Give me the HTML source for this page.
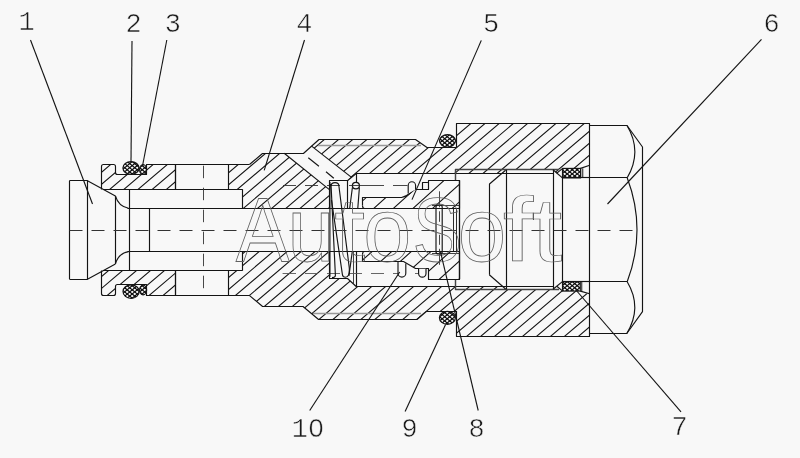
<!DOCTYPE html>
<html><head><meta charset="utf-8"><title>Valve section</title>
<style>
html,body{margin:0;padding:0;background:#f8f8f8;}
body{width:800px;height:458px;overflow:hidden;font-family:"Liberation Sans",sans-serif;}
svg{display:block}
</style></head><body>
<svg width="800" height="458" viewBox="0 0 800 458">
<defs>
<clipPath id="c1"><path d="M101.5,189.5 L101.5,166.5 Q101.5,164.5 103.5,164.5 L113.5,164.5 Q115.5,164.5 115.5,166.5 L115.5,172.5 Q115.5,174.5 117.5,174.5 L146.5,174.5 L146.5,164.5 L175.5,164.5 L175.5,189.5 Z"/></clipPath>
<clipPath id="c2"><path d="M101.5,270.5 L101.5,293.5 Q101.5,295.5 103.5,295.5 L113.5,295.5 Q115.5,295.5 115.5,293.5 L115.5,286.5 Q115.5,284.5 117.5,284.5 L146.5,284.5 L146.5,295.5 L175.5,295.5 L175.5,270.5 Z"/></clipPath>
<clipPath id="c3"><path d="M228.60,164.50 L249.50,164.50 L262.50,153.20 L303.40,153.20 L319.00,139.60 L415.50,139.60 L427.00,147.70 L456.00,147.70 L456.00,123.50 L589.70,123.50 L589.70,165.20 L580.50,168.40 L562.60,168.40 L557.00,173.40 L553.00,169.80 L506.30,169.80 L503.00,173.40 L356.20,173.40 L347.70,180.60 L329.40,180.60 L329.40,208.20 L242.50,208.20 L242.50,189.20 L228.60,189.20 Z"/></clipPath>
<clipPath id="c4"><path d="M228.60,295.00 L249.00,295.00 L262.60,306.40 L303.00,306.40 L318.60,319.70 L417.00,319.70 L426.30,311.00 L456.00,311.00 L456.00,336.30 L589.70,336.30 L589.70,294.60 L580.30,291.10 L562.60,291.10 L557.00,286.00 L553.00,289.30 L506.30,289.30 L503.00,286.00 L356.20,286.30 L347.50,278.40 L329.40,278.40 L329.40,251.60 L242.50,251.60 L242.50,270.80 L228.60,270.80 Z"/></clipPath>
<clipPath id="c5"><path d="M362.5,205.5 L362.5,197.5 L401.5,197.5 Q406.5,196.5 409.5,193.5 L414.5,189.5 L428.5,189.5 L428.5,180.5 L459.5,180.5 L459.5,208.5 L364.5,208.5 Q362.5,208.5 362.5,205.5 Z"/></clipPath>
<clipPath id="c6"><path d="M362.5,254.5 L362.5,261.5 L403.5,261.5 L415.5,268.5 L428.5,268.5 L428.5,279.5 L459.5,279.5 L459.5,251.5 L364.5,251.5 Q362.5,251.5 362.5,254.5 Z"/></clipPath>
<clipPath id="c7"><path d="M562.6,168.4 H580.5 V177.9 H562.6 Z"/></clipPath>
<clipPath id="c8"><path d="M562.6,168.4 H580.5 V177.9 H562.6 Z"/></clipPath>
<clipPath id="c9"><path d="M562.6,281.6 H580.3 V291.1 H562.6 Z"/></clipPath>
<clipPath id="c10"><path d="M562.6,281.6 H580.3 V291.1 H562.6 Z"/></clipPath>
<clipPath id="c11"><path d="M122.9,168.0 a8.1,6.4 0 1,0 16.2,0 a8.1,6.4 0 1,0 -16.2,0 Z"/></clipPath>
<clipPath id="c12"><path d="M122.9,168.0 a8.1,6.4 0 1,0 16.2,0 a8.1,6.4 0 1,0 -16.2,0 Z"/></clipPath>
<clipPath id="c13"><path d="M139.6,169.6 a3.5,4.9 0 1,0 7.0,0 a3.5,4.9 0 1,0 -7.0,0 Z"/></clipPath>
<clipPath id="c14"><path d="M139.6,169.6 a3.5,4.9 0 1,0 7.0,0 a3.5,4.9 0 1,0 -7.0,0 Z"/></clipPath>
<clipPath id="c15"><path d="M123.0,291.6 a8.1,6.8 0 1,0 16.2,0 a8.1,6.8 0 1,0 -16.2,0 Z"/></clipPath>
<clipPath id="c16"><path d="M123.0,291.6 a8.1,6.8 0 1,0 16.2,0 a8.1,6.8 0 1,0 -16.2,0 Z"/></clipPath>
<clipPath id="c17"><path d="M139.6,290.0 a3.5,4.9 0 1,0 7.0,0 a3.5,4.9 0 1,0 -7.0,0 Z"/></clipPath>
<clipPath id="c18"><path d="M139.6,290.0 a3.5,4.9 0 1,0 7.0,0 a3.5,4.9 0 1,0 -7.0,0 Z"/></clipPath>
<clipPath id="c19"><path d="M439.5,140.8 a8.0,6.2 0 1,0 16.0,0 a8.0,6.2 0 1,0 -16.0,0 Z"/></clipPath>
<clipPath id="c20"><path d="M439.5,140.8 a8.0,6.2 0 1,0 16.0,0 a8.0,6.2 0 1,0 -16.0,0 Z"/></clipPath>
<clipPath id="c21"><path d="M439.4,317.8 a8.0,6.5 0 1,0 16.0,0 a8.0,6.5 0 1,0 -16.0,0 Z"/></clipPath>
<clipPath id="c22"><path d="M439.4,317.8 a8.0,6.5 0 1,0 16.0,0 a8.0,6.5 0 1,0 -16.0,0 Z"/></clipPath>
<filter id="gs" x="-5%" y="-5%" width="110%" height="110%" color-interpolation-filters="sRGB"><feColorMatrix type="saturate" values="0"/></filter>
</defs>
<rect width="800" height="458" fill="#f8f8f8"/>
<path d="M78.87,191.50 L112.99,162.50 M93.05,191.50 L127.17,162.50 M107.23,191.50 L141.35,162.50 M121.41,191.50 L155.53,162.50 M135.59,191.50 L169.71,162.50 M149.77,191.50 L183.89,162.50 M163.95,191.50 L198.07,162.50" stroke="#141414" stroke-width="1.1" fill="none" clip-path="url(#c1)"/>
<path d="M76.87,297.50 L110.99,268.50 M90.84,297.50 L124.96,268.50 M104.81,297.50 L138.93,268.50 M118.78,297.50 L152.90,268.50 M132.75,297.50 L166.87,268.50 M146.72,297.50 L180.84,268.50 M160.69,297.50 L194.81,268.50 M174.66,297.50 L208.78,268.50" stroke="#141414" stroke-width="1.1" fill="none" clip-path="url(#c2)"/>
<path d="M127.77,210.20 L232.12,121.50 M141.95,210.20 L246.30,121.50 M156.13,210.20 L260.48,121.50 M170.31,210.20 L274.66,121.50 M184.49,210.20 L288.84,121.50 M198.67,210.20 L303.02,121.50 M212.85,210.20 L317.20,121.50 M227.03,210.20 L331.38,121.50 M241.21,210.20 L345.56,121.50 M255.39,210.20 L359.74,121.50 M269.57,210.20 L373.92,121.50 M283.75,210.20 L388.10,121.50 M297.93,210.20 L402.28,121.50 M312.11,210.20 L416.46,121.50 M326.29,210.20 L430.64,121.50 M340.47,210.20 L444.82,121.50 M354.65,210.20 L459.00,121.50 M368.83,210.20 L473.18,121.50 M383.01,210.20 L487.36,121.50 M397.19,210.20 L501.54,121.50 M411.37,210.20 L515.72,121.50 M425.55,210.20 L529.90,121.50 M439.73,210.20 L544.08,121.50 M453.91,210.20 L558.26,121.50 M468.09,210.20 L572.44,121.50 M482.27,210.20 L586.62,121.50 M496.45,210.20 L600.80,121.50 M510.63,210.20 L614.98,121.50 M524.81,210.20 L629.16,121.50 M538.99,210.20 L643.34,121.50 M553.17,210.20 L657.52,121.50 M567.35,210.20 L671.70,121.50 M581.53,210.20 L685.88,121.50" stroke="#141414" stroke-width="1.1" fill="none" clip-path="url(#c3)"/>
<path d="M129.16,338.30 L233.51,249.60 M143.13,338.30 L247.48,249.60 M157.10,338.30 L261.45,249.60 M171.07,338.30 L275.42,249.60 M185.04,338.30 L289.39,249.60 M199.01,338.30 L303.36,249.60 M212.98,338.30 L317.33,249.60 M226.95,338.30 L331.30,249.60 M240.92,338.30 L345.27,249.60 M254.89,338.30 L359.24,249.60 M268.86,338.30 L373.21,249.60 M282.83,338.30 L387.18,249.60 M296.80,338.30 L401.15,249.60 M310.77,338.30 L415.12,249.60 M324.74,338.30 L429.09,249.60 M338.71,338.30 L443.06,249.60 M352.68,338.30 L457.03,249.60 M366.65,338.30 L471.00,249.60 M380.62,338.30 L484.97,249.60 M394.59,338.30 L498.94,249.60 M408.56,338.30 L512.91,249.60 M422.53,338.30 L526.88,249.60 M436.50,338.30 L540.85,249.60 M450.47,338.30 L554.82,249.60 M464.44,338.30 L568.79,249.60 M478.41,338.30 L582.76,249.60 M492.38,338.30 L596.73,249.60 M506.35,338.30 L610.70,249.60 M520.32,338.30 L624.67,249.60 M534.29,338.30 L638.64,249.60 M548.26,338.30 L652.61,249.60 M562.23,338.30 L666.58,249.60 M576.20,338.30 L680.55,249.60 M590.17,338.30 L694.52,249.60" stroke="#141414" stroke-width="1.1" fill="none" clip-path="url(#c4)"/>
<path d="M284.20,153.20 L303.40,153.20 L311.60,146.10 L350.90,176.90 L347.70,180.60 L329.40,180.60 L329.40,189.60 Z" fill="#f8f8f8" stroke="none"/>
<path d="M332.26,210.50 L367.81,178.50 M351.86,210.50 L387.41,178.50 M371.46,210.50 L407.01,178.50 M391.06,210.50 L426.61,178.50 M410.66,210.50 L446.21,178.50 M430.26,210.50 L465.81,178.50 M449.86,210.50 L485.41,178.50" stroke="#141414" stroke-width="1.1" fill="none" clip-path="url(#c5)"/>
<path d="M338.78,281.50 L374.33,249.50 M358.38,281.50 L393.93,249.50 M377.98,281.50 L413.53,249.50 M397.58,281.50 L433.13,249.50 M417.18,281.50 L452.73,249.50 M436.78,281.50 L472.33,249.50 M456.38,281.50 L491.93,249.50" stroke="#141414" stroke-width="1.1" fill="none" clip-path="url(#c6)"/>
<path d="M69.50,180.50 L87.00,180.50 L115.40,195.90" stroke="#141414" stroke-width="1.15" fill="none" stroke-linejoin="round" />
<path d="M69.50,279.50 L87.00,279.50 L115.40,263.90" stroke="#141414" stroke-width="1.15" fill="none" stroke-linejoin="round" />
<line x1="69.50" y1="180.60" x2="69.50" y2="279.20" stroke="#141414" stroke-width="1.15" stroke-linecap="butt"/>
<line x1="87.50" y1="180.60" x2="87.50" y2="279.20" stroke="#141414" stroke-width="1.15" stroke-linecap="butt"/>
<line x1="115.50" y1="195.90" x2="115.50" y2="263.90" stroke="#141414" stroke-width="1.15" stroke-linecap="butt"/>
<path d="M115.4,195.9 Q118.5,206.5 128.5,208.2" stroke="#141414" stroke-width="1.15" fill="none" stroke-linejoin="round" />
<path d="M115.4,263.9 Q118.5,253.3 128.5,251.6" stroke="#141414" stroke-width="1.15" fill="none" stroke-linejoin="round" />
<line x1="127.50" y1="208.50" x2="459.00" y2="208.50" stroke="#141414" stroke-width="1.15" stroke-linecap="butt"/>
<line x1="127.50" y1="251.50" x2="459.00" y2="251.50" stroke="#141414" stroke-width="1.15" stroke-linecap="butt"/>
<line x1="129.50" y1="189.20" x2="129.50" y2="270.70" stroke="#141414" stroke-width="1.15" stroke-linecap="butt"/>
<line x1="149.50" y1="208.20" x2="149.50" y2="251.60" stroke="#141414" stroke-width="1.15" stroke-linecap="butt"/>
<path d="M101.5,189.5 L101.5,166.5 Q101.5,164.5 103.5,164.5 L113.5,164.5 Q115.5,164.5 115.5,166.5 L115.5,172.5 Q115.5,174.5 117.5,174.5 L146.5,174.5 L146.5,164.5 L175.5,164.5 L175.5,189.5" stroke="#141414" stroke-width="1.15" fill="none" stroke-linejoin="round" />
<path d="M101.5,270.5 L101.5,293.5 Q101.5,295.5 103.5,295.5 L113.5,295.5 Q115.5,295.5 115.5,293.5 L115.5,286.5 Q115.5,284.5 117.5,284.5 L146.5,284.5 L146.5,295.5 L175.5,295.5 L175.5,270.5" stroke="#141414" stroke-width="1.15" fill="none" stroke-linejoin="round" />
<line x1="146.60" y1="164.50" x2="249.50" y2="164.50" stroke="#141414" stroke-width="1.15" stroke-linecap="butt"/>
<line x1="146.60" y1="295.50" x2="249.00" y2="295.50" stroke="#141414" stroke-width="1.15" stroke-linecap="butt"/>
<line x1="103.00" y1="189.50" x2="242.50" y2="189.50" stroke="#141414" stroke-width="1.15" stroke-linecap="butt"/>
<line x1="103.00" y1="270.50" x2="242.50" y2="270.50" stroke="#141414" stroke-width="1.15" stroke-linecap="butt"/>
<line x1="175.50" y1="164.50" x2="175.50" y2="189.20" stroke="#141414" stroke-width="1.15" stroke-linecap="butt"/>
<line x1="175.50" y1="270.70" x2="175.50" y2="295.10" stroke="#141414" stroke-width="1.15" stroke-linecap="butt"/>
<line x1="228.50" y1="164.50" x2="228.50" y2="189.20" stroke="#141414" stroke-width="1.15" stroke-linecap="butt"/>
<line x1="228.50" y1="270.70" x2="228.50" y2="295.10" stroke="#141414" stroke-width="1.15" stroke-linecap="butt"/>
<line x1="242.50" y1="189.20" x2="242.50" y2="208.20" stroke="#141414" stroke-width="1.15" stroke-linecap="butt"/>
<line x1="242.50" y1="251.60" x2="242.50" y2="270.70" stroke="#141414" stroke-width="1.15" stroke-linecap="butt"/>
<line x1="203.50" y1="165.70" x2="203.50" y2="295.00" stroke="#333" stroke-width="0.9" stroke-dasharray="12.5 9.5" stroke-linecap="butt"/>
<path d="M249.50,164.50 L262.50,153.50 L303.40,153.50 L319.00,139.50 L415.50,139.50 L427.00,147.50 L456.00,147.50" stroke="#141414" stroke-width="1.15" fill="none" stroke-linejoin="round" />
<path d="M249.00,295.10 L262.60,306.50 L303.00,306.50 L318.60,319.50 L417.00,319.50 L426.30,311.50 L456.00,311.50" stroke="#141414" stroke-width="1.15" fill="none" stroke-linejoin="round" />
<line x1="318.00" y1="145.50" x2="421.00" y2="145.50" stroke="#999" stroke-width="1.4" stroke-linecap="butt"/>
<line x1="313.00" y1="313.50" x2="421.00" y2="313.50" stroke="#999" stroke-width="1.4" stroke-linecap="butt"/>
<line x1="284.20" y1="153.20" x2="329.40" y2="189.60" stroke="#141414" stroke-width="1.15" stroke-linecap="butt"/>
<line x1="311.60" y1="146.10" x2="350.90" y2="176.90" stroke="#141414" stroke-width="1.15" stroke-linecap="butt"/>
<line x1="308.30" y1="157.70" x2="318.90" y2="166.20" stroke="#141414" stroke-width="1.15" stroke-linecap="butt"/>
<line x1="326.00" y1="171.80" x2="333.80" y2="178.20" stroke="#141414" stroke-width="1.15" stroke-linecap="butt"/>
<path d="M329.50,208.20 L329.50,180.50 L347.70,180.50 L356.20,173.50 L503.00,173.50" stroke="#141414" stroke-width="1.15" fill="none" stroke-linejoin="round" />
<path d="M329.50,251.60 L329.50,278.50 L347.50,278.50 L356.20,286.50 L503.00,286.50" stroke="#141414" stroke-width="1.15" fill="none" stroke-linejoin="round" />
<line x1="347.50" y1="180.60" x2="347.50" y2="208.20" stroke="#141414" stroke-width="1.15" stroke-linecap="butt"/>
<line x1="356.50" y1="173.40" x2="356.50" y2="182.50" stroke="#141414" stroke-width="1.15" stroke-linecap="butt"/>
<line x1="353.50" y1="251.60" x2="353.50" y2="283.50" stroke="#141414" stroke-width="0.8" stroke-linecap="butt"/>
<line x1="356.50" y1="251.60" x2="356.50" y2="286.30" stroke="#141414" stroke-width="1.15" stroke-linecap="butt"/>
<line x1="283.00" y1="185.50" x2="296.00" y2="185.50" stroke="#333" stroke-width="0.9" stroke-linecap="butt"/>
<line x1="305.00" y1="185.50" x2="318.00" y2="185.50" stroke="#333" stroke-width="0.9" stroke-linecap="butt"/>
<line x1="327.00" y1="185.50" x2="340.00" y2="185.50" stroke="#333" stroke-width="0.9" stroke-linecap="butt"/>
<line x1="349.00" y1="185.50" x2="384.00" y2="185.50" stroke="#333" stroke-width="0.9" stroke-linecap="butt"/>
<line x1="393.00" y1="185.50" x2="407.50" y2="185.50" stroke="#333" stroke-width="0.9" stroke-linecap="butt"/>
<line x1="282.60" y1="273.50" x2="296.00" y2="273.50" stroke="#555" stroke-width="0.9" stroke-linecap="butt"/>
<line x1="305.00" y1="273.50" x2="318.00" y2="273.50" stroke="#555" stroke-width="0.9" stroke-linecap="butt"/>
<line x1="327.00" y1="273.50" x2="340.00" y2="273.50" stroke="#555" stroke-width="0.9" stroke-linecap="butt"/>
<line x1="349.00" y1="273.50" x2="362.00" y2="273.50" stroke="#555" stroke-width="0.9" stroke-linecap="butt"/>
<line x1="371.00" y1="273.50" x2="384.00" y2="273.50" stroke="#555" stroke-width="0.9" stroke-linecap="butt"/>
<line x1="393.00" y1="273.50" x2="398.00" y2="273.50" stroke="#555" stroke-width="0.9" stroke-linecap="butt"/>
<line x1="415.00" y1="273.50" x2="418.50" y2="273.50" stroke="#555" stroke-width="0.9" stroke-linecap="butt"/>
<path d="M456.50,147.70 L456.50,123.50 L589.50,123.50 L589.50,336.50 L456.50,336.50 L456.50,311.00" stroke="#141414" stroke-width="1.15" fill="none" stroke-linejoin="round" />
<path d="M455.50,180.20 L455.50,169.50 L559.00,169.50" stroke="#444" stroke-width="1.45" fill="none" stroke-linejoin="round" />
<path d="M455.50,279.40 L455.50,289.50 L559.00,289.50" stroke="#444" stroke-width="1.45" fill="none" stroke-linejoin="round" />
<line x1="503.00" y1="173.50" x2="553.00" y2="173.50" stroke="#141414" stroke-width="1.0" stroke-linecap="butt"/>
<line x1="503.00" y1="286.50" x2="553.00" y2="286.50" stroke="#141414" stroke-width="1.0" stroke-linecap="butt"/>
<path d="M489.50,274.80 L489.50,184.00 L505.60,170.30" stroke="#141414" stroke-width="1.15" fill="none" stroke-linejoin="round" />
<path d="M489.30,274.80 L505.60,289.00" stroke="#141414" stroke-width="1.15" fill="none" stroke-linejoin="round" />
<line x1="506.50" y1="169.80" x2="506.50" y2="289.30" stroke="#141414" stroke-width="1.15" stroke-linecap="butt"/>
<line x1="553.50" y1="169.80" x2="553.50" y2="289.30" stroke="#141414" stroke-width="1.15" stroke-linecap="butt"/>
<line x1="562.50" y1="168.40" x2="562.50" y2="291.10" stroke="#141414" stroke-width="1.15" stroke-linecap="butt"/>
<line x1="533.50" y1="213.50" x2="533.50" y2="219.80" stroke="#141414" stroke-width="1.0" stroke-linecap="butt"/>
<path d="M553.00,169.80 L562.40,177.90" stroke="#141414" stroke-width="1.15" fill="none" stroke-linejoin="round" />
<path d="M556.60,173.20 L562.40,168.60" stroke="#141414" stroke-width="1.15" fill="none" stroke-linejoin="round" />
<path d="M553.00,289.30 L562.40,281.60" stroke="#141414" stroke-width="1.15" fill="none" stroke-linejoin="round" />
<path d="M556.80,286.20 L562.40,290.90" stroke="#141414" stroke-width="1.15" fill="none" stroke-linejoin="round" />
<path d="M562.6,168.4 H580.5 V177.9 H562.6 Z" fill="#fafafa" stroke="none"/>
<path d="M562.49,165.40L543.77,180.90M567.49,165.40L548.77,180.90M572.49,165.40L553.77,180.90M577.49,165.40L558.77,180.90M582.49,165.40L563.77,180.90M587.49,165.40L568.77,180.90M592.49,165.40L573.77,180.90M597.49,165.40L578.77,180.90" stroke="#0c0c0c" stroke-width="1.2" fill="none" clip-path="url(#c7)"/>
<path d="M541.91,165.40L560.63,180.90M546.91,165.40L565.63,180.90M551.91,165.40L570.63,180.90M556.91,165.40L575.63,180.90M561.91,165.40L580.63,180.90M566.91,165.40L585.63,180.90M571.91,165.40L590.63,180.90M576.91,165.40L595.63,180.90M581.91,165.40L600.63,180.90" stroke="#0c0c0c" stroke-width="1.2" fill="none" clip-path="url(#c8)"/>
<rect x="562.6" y="168.4" width="17.9" height="9.5" fill="none" stroke="#141414" stroke-width="1.15"/>
<path d="M562.6,281.6 H580.3 V291.1 H562.6 Z" fill="#fafafa" stroke="none"/>
<path d="M560.77,278.60L542.06,294.10M565.77,278.60L547.06,294.10M570.77,278.60L552.06,294.10M575.77,278.60L557.06,294.10M580.77,278.60L562.06,294.10M585.77,278.60L567.06,294.10M590.77,278.60L572.06,294.10M595.77,278.60L577.06,294.10M600.77,278.60L582.06,294.10" stroke="#0c0c0c" stroke-width="1.2" fill="none" clip-path="url(#c9)"/>
<path d="M543.63,278.60L562.34,294.10M548.63,278.60L567.34,294.10M553.63,278.60L572.34,294.10M558.63,278.60L577.34,294.10M563.63,278.60L582.34,294.10M568.63,278.60L587.34,294.10M573.63,278.60L592.34,294.10M578.63,278.60L597.34,294.10" stroke="#0c0c0c" stroke-width="1.2" fill="none" clip-path="url(#c10)"/>
<rect x="562.6" y="281.6" width="17.7" height="9.5" fill="none" stroke="#141414" stroke-width="1.15"/>
<line x1="582.50" y1="168.40" x2="582.50" y2="177.90" stroke="#555" stroke-width="1.7" stroke-linecap="butt"/>
<line x1="581.50" y1="281.60" x2="581.50" y2="291.10" stroke="#555" stroke-width="1.7" stroke-linecap="butt"/>
<line x1="580.50" y1="168.40" x2="589.70" y2="165.20" stroke="#141414" stroke-width="1.15" stroke-linecap="butt"/>
<line x1="580.30" y1="291.10" x2="589.70" y2="293.80" stroke="#141414" stroke-width="1.15" stroke-linecap="butt"/>
<line x1="562.60" y1="177.50" x2="589.70" y2="177.50" stroke="#141414" stroke-width="1.15" stroke-linecap="butt"/>
<line x1="562.60" y1="281.50" x2="589.70" y2="281.50" stroke="#141414" stroke-width="1.15" stroke-linecap="butt"/>
<path d="M589.70,125.50 L627.00,125.50 L642.50,147.00 L642.50,311.60 L626.80,333.50 L589.70,333.50" stroke="#141414" stroke-width="1.15" fill="none" stroke-linejoin="round" />
<line x1="589.70" y1="177.50" x2="627.20" y2="177.50" stroke="#141414" stroke-width="1.15" stroke-linecap="butt"/>
<line x1="589.70" y1="281.50" x2="627.20" y2="281.50" stroke="#141414" stroke-width="1.15" stroke-linecap="butt"/>
<path d="M627.0,125.5 Q642.6,151.6 627.2,177.8" stroke="#141414" stroke-width="1.15" fill="none" stroke-linejoin="round" />
<path d="M627.2,177.8 Q646.8,229.8 627.2,281.8" stroke="#141414" stroke-width="1.15" fill="none" stroke-linejoin="round" />
<path d="M627.2,281.8 Q642.6,307.6 626.8,333.5" stroke="#141414" stroke-width="1.15" fill="none" stroke-linejoin="round" />
<path d="M122.9,168.0 a8.1,6.4 0 1,0 16.2,0 a8.1,6.4 0 1,0 -16.2,0 Z" fill="#fafafa" stroke="none"/>
<path d="M120.70,158.60L98.00,177.40M125.70,158.60L103.00,177.40M130.70,158.60L108.00,177.40M135.70,158.60L113.00,177.40M140.70,158.60L118.00,177.40M145.70,158.60L123.00,177.40M150.70,158.60L128.00,177.40M155.70,158.60L133.00,177.40M160.70,158.60L138.00,177.40" stroke="#0c0c0c" stroke-width="1.2" fill="none" clip-path="url(#c11)"/>
<path d="M98.70,158.60L121.40,177.40M103.70,158.60L126.40,177.40M108.70,158.60L131.40,177.40M113.70,158.60L136.40,177.40M118.70,158.60L141.40,177.40M123.70,158.60L146.40,177.40M128.70,158.60L151.40,177.40M133.70,158.60L156.40,177.40M138.70,158.60L161.40,177.40" stroke="#0c0c0c" stroke-width="1.2" fill="none" clip-path="url(#c12)"/>
<ellipse cx="131.0" cy="168.0" rx="8.1" ry="6.4" fill="none" stroke="#141414" stroke-width="1.2"/>
<path d="M139.6,169.6 a3.5,4.9 0 1,0 7.0,0 a3.5,4.9 0 1,0 -7.0,0 Z" fill="#fafafa" stroke="none"/>
<path d="M136.96,161.70L117.88,177.50M141.96,161.70L122.88,177.50M146.96,161.70L127.88,177.50M151.96,161.70L132.88,177.50M156.96,161.70L137.88,177.50M161.96,161.70L142.88,177.50M166.96,161.70L147.88,177.50" stroke="#0c0c0c" stroke-width="1.2" fill="none" clip-path="url(#c13)"/>
<path d="M122.44,161.70L141.52,177.50M127.44,161.70L146.52,177.50M132.44,161.70L151.52,177.50M137.44,161.70L156.52,177.50M142.44,161.70L161.52,177.50M147.44,161.70L166.52,177.50" stroke="#0c0c0c" stroke-width="1.2" fill="none" clip-path="url(#c14)"/>
<ellipse cx="143.1" cy="169.6" rx="3.5" ry="4.9" fill="none" stroke="#141414" stroke-width="1.2"/>
<path d="M123.0,291.6 a8.1,6.8 0 1,0 16.2,0 a8.1,6.8 0 1,0 -16.2,0 Z" fill="#fafafa" stroke="none"/>
<path d="M121.91,281.80L98.24,301.40M126.91,281.80L103.24,301.40M131.91,281.80L108.24,301.40M136.91,281.80L113.24,301.40M141.91,281.80L118.24,301.40M146.91,281.80L123.24,301.40M151.91,281.80L128.24,301.40M156.91,281.80L133.24,301.40M161.91,281.80L138.24,301.40" stroke="#0c0c0c" stroke-width="1.2" fill="none" clip-path="url(#c15)"/>
<path d="M97.49,281.80L121.16,301.40M102.49,281.80L126.16,301.40M107.49,281.80L131.16,301.40M112.49,281.80L136.16,301.40M117.49,281.80L141.16,301.40M122.49,281.80L146.16,301.40M127.49,281.80L151.16,301.40M132.49,281.80L156.16,301.40M137.49,281.80L161.16,301.40" stroke="#0c0c0c" stroke-width="1.2" fill="none" clip-path="url(#c16)"/>
<ellipse cx="131.1" cy="291.6" rx="8.1" ry="6.8" fill="none" stroke="#141414" stroke-width="1.2"/>
<path d="M139.6,290.0 a3.5,4.9 0 1,0 7.0,0 a3.5,4.9 0 1,0 -7.0,0 Z" fill="#fafafa" stroke="none"/>
<path d="M141.55,282.10L122.47,297.90M146.55,282.10L127.47,297.90M151.55,282.10L132.47,297.90M156.55,282.10L137.47,297.90M161.55,282.10L142.47,297.90M166.55,282.10L147.47,297.90" stroke="#0c0c0c" stroke-width="1.2" fill="none" clip-path="url(#c17)"/>
<path d="M117.85,282.10L136.93,297.90M122.85,282.10L141.93,297.90M127.85,282.10L146.93,297.90M132.85,282.10L151.93,297.90M137.85,282.10L156.93,297.90M142.85,282.10L161.93,297.90M147.85,282.10L166.93,297.90" stroke="#0c0c0c" stroke-width="1.2" fill="none" clip-path="url(#c18)"/>
<ellipse cx="143.1" cy="290.0" rx="3.5" ry="4.9" fill="none" stroke="#141414" stroke-width="1.2"/>
<path d="M439.5,140.8 a8.0,6.2 0 1,0 16.0,0 a8.0,6.2 0 1,0 -16.0,0 Z" fill="#fafafa" stroke="none"/>
<path d="M438.31,131.60L416.09,150.00M443.31,131.60L421.09,150.00M448.31,131.60L426.09,150.00M453.31,131.60L431.09,150.00M458.31,131.60L436.09,150.00M463.31,131.60L441.09,150.00M468.31,131.60L446.09,150.00M473.31,131.60L451.09,150.00M478.31,131.60L456.09,150.00" stroke="#0c0c0c" stroke-width="1.2" fill="none" clip-path="url(#c19)"/>
<path d="M416.09,131.60L438.31,150.00M421.09,131.60L443.31,150.00M426.09,131.60L448.31,150.00M431.09,131.60L453.31,150.00M436.09,131.60L458.31,150.00M441.09,131.60L463.31,150.00M446.09,131.60L468.31,150.00M451.09,131.60L473.31,150.00M456.09,131.60L478.31,150.00" stroke="#0c0c0c" stroke-width="1.2" fill="none" clip-path="url(#c20)"/>
<ellipse cx="447.5" cy="140.8" rx="8.0" ry="6.2" fill="none" stroke="#141414" stroke-width="1.2"/>
<path d="M439.4,317.8 a8.0,6.5 0 1,0 16.0,0 a8.0,6.5 0 1,0 -16.0,0 Z" fill="#fafafa" stroke="none"/>
<path d="M439.91,308.30L416.96,327.30M444.91,308.30L421.96,327.30M449.91,308.30L426.96,327.30M454.91,308.30L431.96,327.30M459.91,308.30L436.96,327.30M464.91,308.30L441.96,327.30M469.91,308.30L446.96,327.30M474.91,308.30L451.96,327.30M479.91,308.30L456.96,327.30" stroke="#0c0c0c" stroke-width="1.2" fill="none" clip-path="url(#c21)"/>
<path d="M414.49,308.30L437.44,327.30M419.49,308.30L442.44,327.30M424.49,308.30L447.44,327.30M429.49,308.30L452.44,327.30M434.49,308.30L457.44,327.30M439.49,308.30L462.44,327.30M444.49,308.30L467.44,327.30M449.49,308.30L472.44,327.30M454.49,308.30L477.44,327.30" stroke="#0c0c0c" stroke-width="1.2" fill="none" clip-path="url(#c22)"/>
<ellipse cx="447.4" cy="317.8" rx="8.0" ry="6.5" fill="none" stroke="#141414" stroke-width="1.2"/>
<path d="M362.5,205.5 L362.5,197.5 L401.5,197.5 Q406.5,196.5 409.5,193.5 L414.5,189.5 L428.5,189.5 L428.5,180.5 L459.5,180.5 L459.5,208.5" stroke="#141414" stroke-width="1.15" fill="none" stroke-linejoin="round" />
<path d="M364.5,208.5 Q362.5,208.5 362.5,205.5" stroke="#141414" stroke-width="1.15" fill="none" stroke-linejoin="round" />
<path d="M362.5,254.5 L362.5,261.5 L403.5,261.5 L415.5,268.5 L428.5,268.5 L428.5,279.5 L459.5,279.5 L459.5,251.5" stroke="#141414" stroke-width="1.15" fill="none" stroke-linejoin="round" />
<path d="M364.5,251.5 Q362.5,251.5 362.5,254.5" stroke="#141414" stroke-width="1.15" fill="none" stroke-linejoin="round" />
<line x1="459.50" y1="180.30" x2="459.50" y2="279.20" stroke="#141414" stroke-width="1.3" stroke-linecap="butt"/>
<path d="M422.50,189.60 L422.50,182.50 L427.90,182.50" stroke="#141414" stroke-width="1.15" fill="none" stroke-linejoin="round" />
<path d="M408.2,193.5 L408.2,185.5 A3.7,3.8 0 0 1 415.6,185.5 L415.6,189.6" stroke="#141414" stroke-width="1.15" fill="#f8f8f8" stroke-linejoin="round" />
<path d="M398.0,261.9 L398.0,273.2 A3.9,3.9 0 0 0 405.8,273.2 L405.8,263.2" stroke="#141414" stroke-width="1.15" fill="#f8f8f8" stroke-linejoin="round" />
<path d="M418.6,268.8 L418.6,273.4 A3.7,3.7 0 0 0 426.0,273.4 L426.0,268.8" stroke="#141414" stroke-width="1.15" fill="#f8f8f8" stroke-linejoin="round" />
<line x1="432.00" y1="205.50" x2="459.00" y2="205.50" stroke="#141414" stroke-width="0.8" stroke-linecap="butt"/>
<line x1="432.00" y1="253.50" x2="459.00" y2="253.50" stroke="#141414" stroke-width="0.8" stroke-linecap="butt"/>
<rect x="436" y="205" width="6.2" height="49" rx="2.5" ry="2" fill="none" stroke="#141414" stroke-width="1.15"/>
<line x1="439.50" y1="191.30" x2="439.50" y2="268.50" stroke="#333" stroke-width="0.9" stroke-dasharray="16 4 10.5 13 10 4" stroke-linecap="butt"/>
<line x1="453.50" y1="208.20" x2="453.50" y2="251.60" stroke="#141414" stroke-width="0.9" stroke-linecap="butt"/>
<line x1="456.50" y1="208.20" x2="456.50" y2="251.60" stroke="#141414" stroke-width="0.9" stroke-linecap="butt"/>
<path d="M329.9,182 L329.9,276.8 M331.0,183.9 L335.4,275.5 Q335.2,277.6 332,277.6" stroke="#141414" stroke-width="1.15" fill="none" stroke-linejoin="round" />
<path d="M331.0,186 Q331.2,182.6 335,182.6 Q338.9,182.6 338.9,186 L349.3,268 Q349.8,277.2 345.5,277.2 Q342.7,277.2 342.4,274.5 L331.5,200" stroke="#141414" stroke-width="1.15" fill="none" stroke-linejoin="round" />
<path d="M352.4,187.5 L349.7,208.2 M359.4,187.5 L357.8,208.2" stroke="#141414" stroke-width="1.15" fill="none" stroke-linejoin="round" />
<path d="M352.3,251.6 L348.9,276" stroke="#141414" stroke-width="1.15" fill="none" stroke-linejoin="round" />
<ellipse cx="355.9" cy="185.6" rx="3.5" ry="3.3" fill="#f8f8f8" stroke="#141414" stroke-width="1.3"/>
<line x1="352.40" y1="185.50" x2="359.40" y2="185.50" stroke="#333" stroke-width="0.9" stroke-linecap="butt"/>
<line x1="69.50" y1="230.50" x2="636.00" y2="230.50" stroke="#333" stroke-width="1.0" stroke-dasharray="13 9" stroke-linecap="butt"/>
<text transform="translate(235.80,260.8) scale(0.8828,1)" x="-0.18" y="0" font-family="Liberation Sans, sans-serif" font-size="91.4" fill="none" stroke="#606060" stroke-width="0.8" vector-effect="non-scaling-stroke">A</text>
<text transform="translate(292.90,260.8) scale(0.9246,1)" x="-5.94" y="0" font-family="Liberation Sans, sans-serif" font-size="91.4" fill="none" stroke="#606060" stroke-width="0.8" vector-effect="non-scaling-stroke">u</text>
<text transform="translate(335.80,260.8) scale(1.2339,1)" x="-1.38" y="0" font-family="Liberation Sans, sans-serif" font-size="91.4" fill="none" stroke="#606060" stroke-width="0.8" vector-effect="non-scaling-stroke">t</text>
<text transform="translate(366.80,260.8) scale(0.9454,1)" x="-3.84" y="0" font-family="Liberation Sans, sans-serif" font-size="91.4" fill="none" stroke="#606060" stroke-width="0.8" vector-effect="non-scaling-stroke">o</text>
<text transform="translate(415.90,260.8) scale(0.8115,1)" x="-4.15" y="0" font-family="Liberation Sans, sans-serif" font-size="91.4" fill="none" stroke="#606060" stroke-width="0.8" vector-effect="non-scaling-stroke">S</text>
<text transform="translate(461.50,260.8) scale(0.9524,1)" x="-3.84" y="0" font-family="Liberation Sans, sans-serif" font-size="91.4" fill="none" stroke="#606060" stroke-width="0.8" vector-effect="non-scaling-stroke">o</text>
<text transform="translate(504.20,260.8) scale(1.2049,1)" x="-1.29" y="0" font-family="Liberation Sans, sans-serif" font-size="91.4" fill="none" stroke="#606060" stroke-width="0.8" vector-effect="non-scaling-stroke">f</text>
<text transform="translate(533.20,260.8) scale(1.2167,1)" x="-1.38" y="0" font-family="Liberation Sans, sans-serif" font-size="91.4" fill="none" stroke="#606060" stroke-width="0.8" vector-effect="non-scaling-stroke">t</text>
<line x1="30.50" y1="40.00" x2="92.50" y2="204.00" stroke="#141414" stroke-width="1.12" stroke-linecap="butt"/>
<line x1="132.00" y1="41.00" x2="131.00" y2="161.50" stroke="#141414" stroke-width="1.12" stroke-linecap="butt"/>
<line x1="166.80" y1="40.00" x2="142.50" y2="166.00" stroke="#141414" stroke-width="1.12" stroke-linecap="butt"/>
<line x1="304.50" y1="40.00" x2="264.20" y2="170.30" stroke="#141414" stroke-width="1.12" stroke-linecap="butt"/>
<line x1="481.30" y1="40.40" x2="412.00" y2="199.60" stroke="#141414" stroke-width="1.12" stroke-linecap="butt"/>
<line x1="761.50" y1="39.30" x2="607.50" y2="204.00" stroke="#141414" stroke-width="1.12" stroke-linecap="butt"/>
<line x1="681.00" y1="411.80" x2="575.50" y2="289.50" stroke="#141414" stroke-width="1.12" stroke-linecap="butt"/>
<line x1="478.20" y1="410.50" x2="440.30" y2="251.00" stroke="#141414" stroke-width="1.12" stroke-linecap="butt"/>
<line x1="405.10" y1="411.50" x2="445.60" y2="324.50" stroke="#141414" stroke-width="1.12" stroke-linecap="butt"/>
<line x1="309.70" y1="410.50" x2="399.70" y2="272.00" stroke="#141414" stroke-width="1.12" stroke-linecap="butt"/>
<g filter="url(#gs)">
<text transform="translate(26.5,30) scale(0.955,1)" x="0" y="0" text-anchor="middle" font-family="Liberation Mono, monospace" font-size="28.2" fill="#1a1a1a" stroke="#f8f8f8" stroke-width="0.55" letter-spacing="0">1</text>
<text transform="translate(133.5,31.8) scale(0.955,1)" x="0" y="0" text-anchor="middle" font-family="Liberation Mono, monospace" font-size="28.2" fill="#1a1a1a" stroke="#f8f8f8" stroke-width="0.55" letter-spacing="0">2</text>
<text transform="translate(172.8,31.8) scale(0.955,1)" x="0" y="0" text-anchor="middle" font-family="Liberation Mono, monospace" font-size="28.2" fill="#1a1a1a" stroke="#f8f8f8" stroke-width="0.55" letter-spacing="0">3</text>
<text transform="translate(304.2,31.8) scale(0.955,1)" x="0" y="0" text-anchor="middle" font-family="Liberation Mono, monospace" font-size="28.2" fill="#1a1a1a" stroke="#f8f8f8" stroke-width="0.55" letter-spacing="0">4</text>
<text transform="translate(491.0,31.8) scale(0.955,1)" x="0" y="0" text-anchor="middle" font-family="Liberation Mono, monospace" font-size="28.2" fill="#1a1a1a" stroke="#f8f8f8" stroke-width="0.55" letter-spacing="0">5</text>
<text transform="translate(771.5,31.8) scale(0.955,1)" x="0" y="0" text-anchor="middle" font-family="Liberation Mono, monospace" font-size="28.2" fill="#1a1a1a" stroke="#f8f8f8" stroke-width="0.55" letter-spacing="0">6</text>
<text transform="translate(679.6,435.3) scale(0.955,1)" x="0" y="0" text-anchor="middle" font-family="Liberation Mono, monospace" font-size="28.2" fill="#1a1a1a" stroke="#f8f8f8" stroke-width="0.55" letter-spacing="0">7</text>
<text transform="translate(476.5,437) scale(0.955,1)" x="0" y="0" text-anchor="middle" font-family="Liberation Mono, monospace" font-size="28.2" fill="#1a1a1a" stroke="#f8f8f8" stroke-width="0.55" letter-spacing="0">8</text>
<text transform="translate(409.5,437) scale(0.955,1)" x="0" y="0" text-anchor="middle" font-family="Liberation Mono, monospace" font-size="28.2" fill="#1a1a1a" stroke="#f8f8f8" stroke-width="0.55" letter-spacing="0">9</text>
<text transform="translate(308,437) scale(0.955,1)" x="0" y="0" text-anchor="middle" font-family="Liberation Mono, monospace" font-size="28.2" fill="#1a1a1a" stroke="#f8f8f8" stroke-width="0.55" letter-spacing="0">10</text>
<ellipse cx="316.1" cy="427.8" rx="2.6" ry="4.8" fill="#f8f8f8"/>
</g>
</svg>
</body></html>
